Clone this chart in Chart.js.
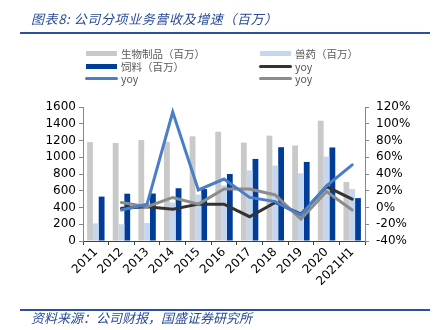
<!DOCTYPE html>
<html>
<head>
<meta charset="utf-8">
<script src="https://cdn.jsdelivr.net/npm/chart.js@4"></script>
<style>
  body { margin: 0; background: #fff; }
  #wrap { position: relative; width: 439px; height: 330px; overflow: hidden; }
  #chart { position: absolute; left: 0; top: 0; }
  .cap { position: absolute; left: 31px; font-family: "Noto Sans CJK SC", sans-serif; font-style: italic; color: #2A4A97; font-size: 13px; white-space: nowrap; }
  .rule { position: absolute; left: 20px; width: 410px; height: 2px; background: #2E4E9E; }
  #legend { position: absolute; left: 0; top: 0; font-family: "Noto Sans CJK SC", sans-serif; font-size: 10.5px; color: #595959; }
  .item { position: absolute; height: 12px; white-space: nowrap; }
  .sw { position: absolute; top: 3px; width: 31px; }
  .lb { position: absolute; left: 35px; top: -2px; }
</style>
</head>
<body>
<div id="wrap">
  <canvas id="chart" width="439" height="330"></canvas>
  <div class="cap" style="top:9px; letter-spacing:0.6px">图表8:&nbsp;公司分项业务营收及增速（百万）</div>
  <div class="rule" style="top:32px"></div>
  <div id="legend"></div>
  <div class="rule" style="top:309px"></div>
  <div class="cap" style="top:308px">资料来源：公司财报，国盛证券研究所</div>
</div>
<script>
const years = ['2011', '2012', '2013', '2014', '2015', '2016', '2017', '2018', '2019', '2020', '2021H1'];

// 营收（百万）
const bioProducts = [1180, 1170, 1205, 1185, 1250, 1305, 1175, 1258, 1140, 1436, 705];
const vetDrugs = [210, 200, 215, 458, 555, 665, 843, 900, 808, 1008, 620];
const feed = [530, 565, 567, 630, 620, 800, 980, 1120, 944, 1117, 512];

// 增速 %
const bioYoy = [null, -1, 1, -2, 4, 4, -11, 6, -8, 25, 10];
const vetYoy = [null, -3, 4, 114, 21, 34, 12, 7, -9, 26, 51];
const feedYoy = [null, 6, 1, 12, 4, 22, 22, 15, -14, 19, -3];

const leftTicks = [0, 200, 400, 600, 800, 1000, 1200, 1400, 1600];
const rightTicks = [-40, -20, 0, 20, 40, 60, 80, 100, 120];

const tickFont = { family: 'DejaVu Sans', size: 12 };

function lineSet(label, data, color, order) {
  return {
    type: 'line', label, data, yAxisID: 'y1', order,
    borderColor: color, backgroundColor: color, borderWidth: 3,
    pointRadius: 0, tension: 0, spanGaps: false, borderCapStyle: 'round'
  };
}

const chart = new Chart(document.getElementById('chart'), {
  type: 'bar',
  data: {
    labels: years,
    datasets: [
      { label: '生物制品（百万）', data: bioProducts, backgroundColor: '#C9C9C9', order: 10, yAxisID: 'y' },
      { label: '兽药（百万）', data: vetDrugs, backgroundColor: '#C5D6EF', order: 10, yAxisID: 'y' },
      { label: '饲料（百万）', data: feed, backgroundColor: '#003D99', order: 10, yAxisID: 'y' },
      lineSet('yoy', bioYoy, '#333333', 5),
      lineSet('yoy', vetYoy, '#4A7EC6', 3),
      lineSet('yoy', feedYoy, '#8C8C8C', 4)
    ]
  },
  options: {
    responsive: false,
    animation: false,
    layout: { padding: { left: 0, right: 0, top: 107, bottom: 29 } },
    datasets: { bar: { categoryPercentage: 0.68, barPercentage: 1.0 } },
    plugins: { legend: { display: false }, tooltip: { enabled: false } },
    scales: {
      x: {
        afterFit: s => { s.height = 60; },
        grid: { drawOnChartArea: false, tickLength: 4, color: '#404040', offset: true },
        border: { color: '#404040', width: 1 },
        ticks: { color: '#000', font: tickFont, minRotation: 45, maxRotation: 45, padding: 0, autoSkip: false }
      },
      y: {
        position: 'left', min: 0, max: 1600,
        afterFit: s => { s.width = 83; },
        afterBuildTicks: s => { s.ticks = leftTicks.map(v => ({ value: v })); },
        grid: { drawOnChartArea: false, tickLength: 4, color: '#868686' },
        border: { color: '#868686', width: 1 },
        ticks: { color: '#000', font: tickFont, padding: 3, autoSkip: false, callback: v => String(v) }
      },
      y1: {
        position: 'right', min: -40, max: 120,
        afterFit: s => { s.width = 74; },
        afterBuildTicks: s => { s.ticks = rightTicks.map(v => ({ value: v })); },
        grid: { drawOnChartArea: false, tickLength: 4, color: '#868686' },
        border: { color: '#868686', width: 1 },
        ticks: { color: '#000', font: tickFont, padding: 7, autoSkip: false, callback: v => v + '%' }
      }
    }
  }
});

// 两列图例，按数据集顺序从左到右、从上到下
const legend = document.getElementById('legend');
const colX = [86, 260];
const rowY = [48, 61, 73];
chart.data.datasets.forEach((ds, i) => {
  const item = document.createElement('div');
  item.className = 'item';
  item.style.left = colX[i % 2] + 'px';
  item.style.top = rowY[Math.floor(i / 2)] + 'px';
  const sw = document.createElement('div');
  sw.className = 'sw';
  if (ds.type === 'line') {
    sw.style.height = '3px';
    sw.style.top = '4px';
    sw.style.borderRadius = '2px';
    sw.style.width = '33px';
    sw.style.left = '-1px';
  } else {
    sw.style.height = '5px';
  }
  sw.style.background = ds.borderColor || ds.backgroundColor;
  const lb = document.createElement('span');
  lb.className = 'lb';
  lb.textContent = ds.label;
  item.appendChild(sw);
  item.appendChild(lb);
  legend.appendChild(item);
});
</script>
</body>
</html>
